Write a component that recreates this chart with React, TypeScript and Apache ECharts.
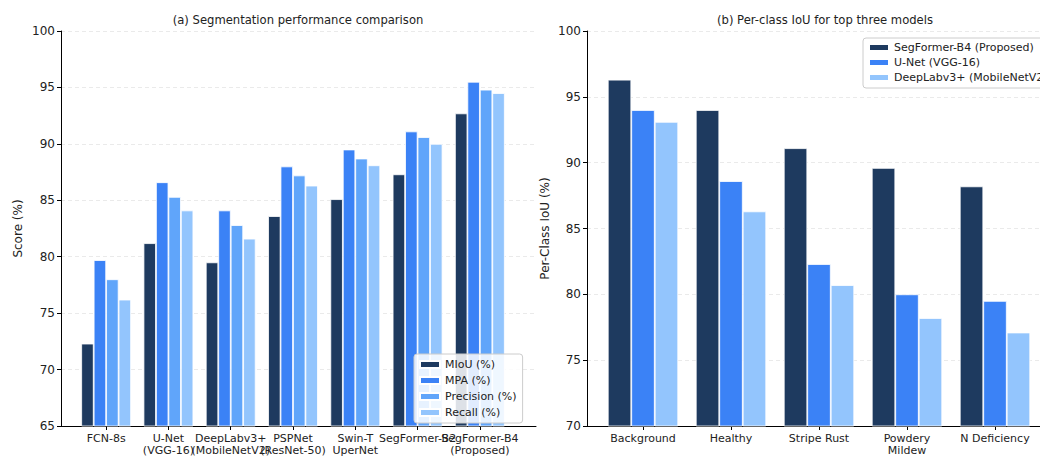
import React, { useEffect, useRef } from "react";
import * as echarts from "echarts";

// ---- Data ----
const modelCategories = [
  "FCN-8s",
  "U-Net\n(VGG-16)",
  "DeepLabv3+\n(MobileNetV2)",
  "PSPNet\n(ResNet-50)",
  "Swin-T\nUperNet",
  "SegFormer-B2",
  "SegFormer-B4\n(Proposed)",
];
const metricNames = ["MIoU (%)", "MPA (%)", "Precision (%)", "Recall (%)"];
const mIoU = [72.3, 81.2, 79.5, 83.6, 85.1, 87.3, 92.7];
const mpa = [79.7, 86.6, 84.1, 88.0, 89.5, 91.1, 95.5];
const precision = [78.0, 85.3, 82.8, 87.2, 88.7, 90.6, 94.8];
const recall = [76.2, 84.1, 81.6, 86.3, 88.1, 90.0, 94.5];
const leftTicks = { min: 65, max: 100, interval: 5 };

const classCategories = ["Background", "Healthy", "Stripe Rust", "Powdery\nMildew", "N Deficiency"];
const modelNames = ["SegFormer-B4 (Proposed)", "U-Net (VGG-16)", "DeepLabv3+ (MobileNetV2)"];
const segformerB4IoU = [96.3, 94.0, 91.1, 89.6, 88.2];
const unetIoU = [94.0, 88.6, 82.3, 80.0, 79.5];
const deeplabIoU = [93.1, 86.3, 80.7, 78.2, 77.1];
const rightTicks = { min: 70, max: 100, interval: 5 };

const NAVY = "#1e3a5f";
const BLUE = "#3b82f6";
const MID = "#60a5fa";
const LIGHT = "#93c5fd";
const FONT = "DejaVu Sans";
const TXT = "#222";

export default function App() {
  const ref = useRef<HTMLDivElement>(null);
  useEffect(() => {
    if (!ref.current) return;
    const chart = echarts.init(ref.current, null, { renderer: "svg" });

    const frameX = (gridIndex: number) => ({
      type: "value",
      gridIndex,
      min: 0,
      max: 1,
      axisLine: { show: true, lineStyle: { color: "#000", width: 1 } },
      axisTick: { show: false },
      axisLabel: { show: false },
      splitLine: { show: false },
    });
    const catX = (gridIndex: number, data: string[]) => ({
      type: "category",
      gridIndex,
      data,
      axisLine: { show: false },
      axisTick: { show: true, alignWithLabel: true, length: 4, lineStyle: { color: "#000" } },
      axisLabel: {
        interval: 0,
        fontFamily: FONT,
        fontSize: 11,
        color: TXT,
        margin: 6,
        lineHeight: 12,
      },
    });
    const frameY = (gridIndex: number, t: any, name: string, gap: number) => ({
      type: "value",
      gridIndex,
      min: t.min,
      max: t.max,
      interval: t.interval,
      name,
      nameLocation: "middle",
      nameGap: gap,
      nameTextStyle: { fontFamily: FONT, fontSize: 12, color: TXT },
      axisLine: { show: true, lineStyle: { color: "#000", width: 1 } },
      axisTick: { show: true, length: 4, lineStyle: { color: "#000" } },
      axisLabel: { fontFamily: FONT, fontSize: 12, color: TXT, margin: 6 },
      splitLine: { show: true, lineStyle: { color: "#e4e4e4", type: [4, 3], width: 0.8 } },
    });
    const hiddenY = (gridIndex: number, t: any) => ({
      type: "value",
      gridIndex,
      min: t.min,
      max: t.max,
      show: false,
      splitLine: { show: false },
    });

    const barSeries = (name: string, data: number[], color: string, xAxisIndex: number, yAxisIndex: number) => ({
      type: "bar",
      name,
      data,
      xAxisIndex,
      yAxisIndex,
      barGap: "0%",
      barCategoryGap: "20%",
      itemStyle: { color, borderColor: "#fff", borderWidth: 0.8 },
      emphasis: { disabled: true },
    });

    const legendBase = {
      orient: "vertical",
      icon: "rect",
      itemWidth: 20,
      itemHeight: 7,
      itemGap: 5,
      textStyle: { fontFamily: FONT, fontSize: 11, color: TXT },
      backgroundColor: "rgba(255,255,255,0.85)",
      borderColor: "#cccccc",
      borderWidth: 1,
      borderRadius: 3,
      selectedMode: false,
    };

    chart.setOption({
      animation: false,
      title: [
        {
          text: "(a) Segmentation performance comparison",
          left: 293,
          top: 9,
          textAlign: "center",
          textStyle: { fontFamily: FONT, fontSize: 11.6, fontWeight: "normal", color: TXT },
        },
        {
          text: "(b) Per-class IoU for top three models",
          left: 820,
          top: 9,
          textAlign: "center",
          textStyle: { fontFamily: FONT, fontSize: 11.6, fontWeight: "normal", color: TXT },
        },
      ],
      legend: [
        {
          ...legendBase,
          data: metricNames,
          left: 414,
          top: 354,
          padding: [5, 6, 5, 5],
        },
        {
          ...legendBase,
          data: modelNames,
          left: 863,
          top: 38,
          itemGap: 4,
          padding: [4, 6, 5, 5],
        },
      ],
      grid: [
        { left: 61, right: 1040 - 536, top: 31, bottom: 32 },
        { left: 75, right: 1040 - 511, top: 31, bottom: 32 },
        { left: 587, right: -10, top: 31, bottom: 32 },
        { left: 599, right: 1, top: 31, bottom: 32 },
      ],
      xAxis: [frameX(0), catX(1, modelCategories), frameX(2), catX(3, classCategories)],
      yAxis: [
        frameY(0, leftTicks, "Score (%)", 37),
        hiddenY(1, leftTicks),
        frameY(2, rightTicks, "Per-Class IoU (%)", 36),
        hiddenY(3, rightTicks),
      ],
      series: [
        barSeries(metricNames[0], mIoU, NAVY, 1, 1),
        barSeries(metricNames[1], mpa, BLUE, 1, 1),
        barSeries(metricNames[2], precision, MID, 1, 1),
        barSeries(metricNames[3], recall, LIGHT, 1, 1),
        barSeries(modelNames[0], segformerB4IoU, NAVY, 3, 3),
        barSeries(modelNames[1], unetIoU, BLUE, 3, 3),
        barSeries(modelNames[2], deeplabIoU, LIGHT, 3, 3),
      ],
    });
    return () => chart.dispose();
  }, []);

  return (
    <div
      ref={ref}
      style={{ position: "fixed", left: 0, top: 0, width: 1040, height: 458, background: "#fff" }}
    />
  );
}
